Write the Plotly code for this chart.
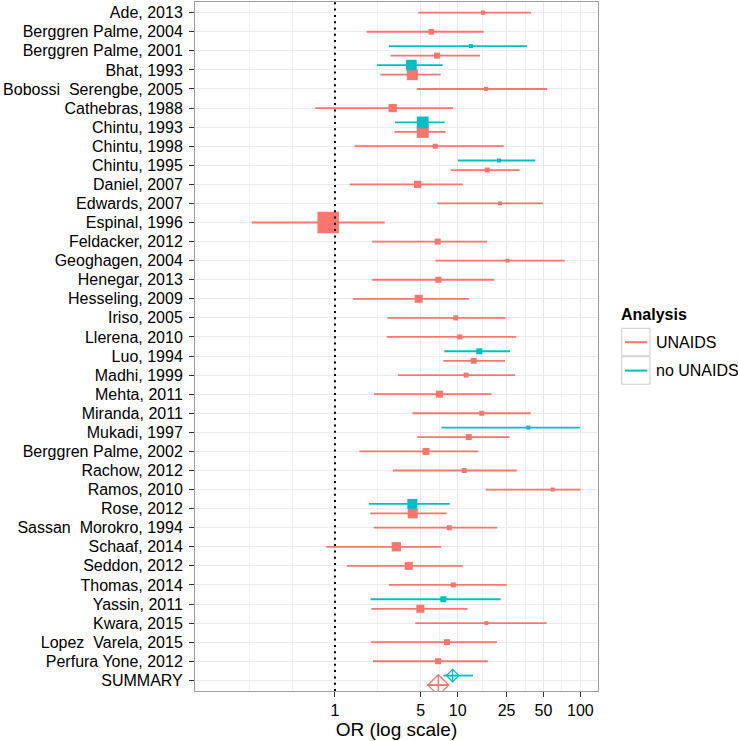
import math
import plotly.graph_objects as go

# ---------------- data ----------------
studies = [
    "Ade, 2013", "Berggren Palme, 2004", "Berggren Palme, 2001", "Bhat, 1993",
    "Bobossi  Serengbe, 2005", "Cathebras, 1988", "Chintu, 1993", "Chintu, 1998",
    "Chintu, 1995", "Daniel, 2007", "Edwards, 2007", "Espinal, 1996",
    "Feldacker, 2012", "Geoghagen, 2004", "Henegar, 2013", "Hesseling, 2009",
    "Iriso, 2005", "Llerena, 2010", "Luo, 1994", "Madhi, 1999", "Mehta, 2011",
    "Miranda, 2011", "Mukadi, 1997", "Berggren Palme, 2002", "Rachow, 2012",
    "Ramos, 2010", "Rose, 2012", "Sassan  Morokro, 1994", "Schaaf, 2014",
    "Seddon, 2012", "Thomas, 2014", "Yassin, 2011", "Kwara, 2015",
    "Lopez  Varela, 2015", "Perfura Yone, 2012", "SUMMARY",
]

# UNAIDS analysis (one value per study, SUMMARY last)
unaids_or = [16.1, 6.09, 6.78, 4.27, 17.0, 2.95, 5.19, 6.57, 17.4, 4.72, 22.1, 0.88,
             6.87, 25.4, 6.95, 4.81, 9.62, 10.4, 13.5, 11.7, 7.09, 15.7, 12.3, 5.52,
             11.3, 59.5, 4.30, 8.54, 3.16, 3.99, 9.21, 4.96, 17.1, 8.18, 6.91, 6.95]
unaids_lo = [4.77, 1.81, 2.84, 2.34, 4.66, 0.69, 3.05, 1.44, 8.77, 1.32, 6.82, 0.21,
             2.01, 6.57, 2.01, 1.40, 2.67, 2.64, 7.64, 3.26, 2.08, 4.27, 4.69, 1.58,
             2.97, 16.9, 1.94, 2.07, 0.85, 1.25, 2.75, 1.98, 4.51, 1.96, 2.04, 5.6]
unaids_hi = [39.6, 16.3, 15.2, 7.27, 53.5, 9.16, 7.98, 23.7, 32.0, 11.0, 49.8, 2.54,
             17.4, 74.5, 19.8, 12.4, 24.6, 30.0, 24.3, 29.3, 18.9, 39.4, 26.5, 14.7,
             30.3, 100.0, 8.13, 21.0, 7.35, 11.0, 25.1, 12.0, 53.1, 20.9, 17.6, 8.5]
unaids_weight = [1.8, 3.2, 3.6, 12.1, 1.6, 6.9, 14.4, 2.5, 2.5, 5.3, 1.6, 46.0,
                 3.6, 1.6, 3.6, 6.4, 2.5, 2.5, 3.6, 2.5, 4.9, 2.5, 3.6, 4.9,
                 2.5, 1.6, 10.0, 2.5, 8.6, 6.4, 2.5, 6.4, 1.6, 3.6, 3.6, None]

# no UNAIDS analysis (only some studies)
nounaids_study = ["Berggren Palme, 2001", "Bhat, 1993", "Chintu, 1993", "Chintu, 1995",
                  "Luo, 1994", "Mukadi, 1997", "Rose, 2012", "Yassin, 2011", "SUMMARY"]
nounaids_or = [12.8, 4.19, 5.19, 21.7, 15.0, 37.6, 4.27, 7.64, 9.1]
nounaids_lo = [2.75, 2.20, 3.08, 10.05, 7.78, 7.40, 1.89, 1.95, 7.64]
nounaids_hi = [36.7, 7.55, 7.84, 42.9, 26.7, 99.0, 8.61, 22.4, 13.3]
nounaids_weight = [1.6, 11.4, 13.7, 1.6, 3.6, 1.6, 10.0, 3.6, None]

x_ticks = [1, 5, 10, 25, 50, 100]

# ---------------- styling / layout constants ----------------
RED = "#F8766D"
TEAL = "#00BFC4"
FONT = "Liberation Sans, Arial, Helvetica, sans-serif"
W, H = 738, 741
ML, MR, MT, MB = 195, 140, 2, 50
PW, PH = W - ML - MR, H - MT - MB


def px_x(px):
    return (px - ML) / PW


def px_y(py):
    return (H - MB - py) / PH


row = {s: i for i, s in enumerate(studies)}
both = set(nounaids_study)
DODGE = 0.25


def wsize(w):
    return math.sqrt(w * 10.0)


fig = go.Figure()


def add_group(names, est, lo, hi, weight, color, offset):
    ys = [row[n] + (offset if n in both else 0.0) for n in names]
    # confidence interval segments
    lx, ly = [], []
    for y, a, b in zip(ys, lo, hi):
        lx += [a, b, None]
        ly += [y, y, None]
    fig.add_trace(go.Scatter(x=lx, y=ly, mode="lines", line=dict(color=color, width=1.8),
                             hoverinfo="skip", showlegend=False))
    # study point estimates (squares sized by weight)
    sx, sy, ss = [], [], []
    dx, dy = [], []
    for n, y, e, w in zip(names, ys, est, weight):
        if n == "SUMMARY":
            dx.append(e)
            dy.append(y)
        else:
            sx.append(e)
            sy.append(y)
            ss.append(wsize(w))
    fig.add_trace(go.Scatter(x=sx, y=sy, mode="markers",
                             marker=dict(symbol="square", size=ss, color=color, opacity=1,
                                         line=dict(width=0)),
                             showlegend=False))
    return dx, dy


dxr, dyr = add_group(studies, unaids_or, unaids_lo, unaids_hi, unaids_weight, RED, DODGE)
dxt, dyt = add_group(nounaids_study, nounaids_or, nounaids_lo, nounaids_hi, nounaids_weight, TEAL, -DODGE)

# summary diamonds
fig.add_trace(go.Scatter(x=dxr, y=dyr, mode="markers",
                         marker=dict(symbol="diamond-cross-open", size=16, color=RED, opacity=1,
                                     line=dict(color=RED, width=1.3)), showlegend=False))
fig.add_trace(go.Scatter(x=dxt, y=dyt, mode="markers",
                         marker=dict(symbol="diamond-cross-open", size=9.5, color=TEAL, opacity=1,
                                     line=dict(color=TEAL, width=1.3)), showlegend=False))

# reference line at OR = 1
fig.add_shape(type="line", xref="x", yref="paper", x0=1, x1=1, y0=0, y1=1,
              line=dict(color="black", width=2, dash="2px,4.3px"), layer="above")

# manual legend
shapes = []
ann = []
ann.append(dict(text="<b>Analysis</b>", x=px_x(619), y=px_y(314), xref="paper", yref="paper",
                xanchor="left", yanchor="middle", showarrow=False,
                font=dict(family=FONT, size=16, color="black")))
for label, color, y0 in [("UNAIDS", RED, 328.3), ("no UNAIDS", TEAL, 356.7)]:
    shapes.append(dict(type="rect", xref="paper", yref="paper",
                       x0=px_x(621.7), x1=px_x(650), y0=px_y(y0), y1=px_y(y0 + 27.5),
                       line=dict(color="#cccccc", width=1), fillcolor="white"))
    yc = y0 + 13.9
    shapes.append(dict(type="line", xref="paper", yref="paper",
                       x0=px_x(625), x1=px_x(647.3), y0=px_y(yc), y1=px_y(yc),
                       line=dict(color=color, width=2)))
    ann.append(dict(text=label, x=px_x(654), y=px_y(yc), xref="paper", yref="paper",
                    xanchor="left", yanchor="middle", showarrow=False,
                    font=dict(family=FONT, size=16, color="black")))
for s in shapes:
    fig.add_shape(**s)

fig.update_layout(
    width=W, height=H,
    margin=dict(l=ML, r=MR, t=MT, b=MB, pad=0),
    paper_bgcolor="white", plot_bgcolor="white",
    font=dict(family=FONT, size=16, color="black"),
    showlegend=False,
    annotations=ann,
    xaxis=dict(
        type="log",
        range=[math.log10(0.0723), math.log10(139.1)],
        tickvals=x_ticks, ticktext=[str(v) for v in x_ticks],
        tickfont=dict(family=FONT, size=16, color="black"),
        ticks="outside", ticklen=5, tickwidth=1, tickcolor="#333333",
        showgrid=True, gridcolor="#e6e6e6", gridwidth=1,
        minor=dict(tickvals=[0.2, 0.4472, 2.236, 7.071, 15.81, 35.36, 70.71],
                   showgrid=True, gridcolor="#f1f1f1", gridwidth=1, ticks=""),
        showline=True, mirror=True, linecolor="#a0a0a0", linewidth=1,
        zeroline=False, automargin=False,
        title=dict(text="OR (log scale)", font=dict(family=FONT, size=19, color="black"),
                   standoff=2),
    ),
    yaxis=dict(
        range=[35.56, -0.56],
        tickvals=list(range(len(studies))), ticktext=studies,
        tickfont=dict(family=FONT, size=16, color="black"),
        ticks="outside", ticklen=5, tickwidth=1, tickcolor="#333333",
        ticklabelstandoff=3,
        showgrid=True, gridcolor="#ebebeb", gridwidth=1,
        showline=True, mirror=True, linecolor="#a0a0a0", linewidth=1,
        zeroline=False, automargin=False,
    ),
)

fig.write_html("out.html", config={"displayModeBar": False},
               post_script="document.body.style.margin='0';document.body.style.padding='0';")
